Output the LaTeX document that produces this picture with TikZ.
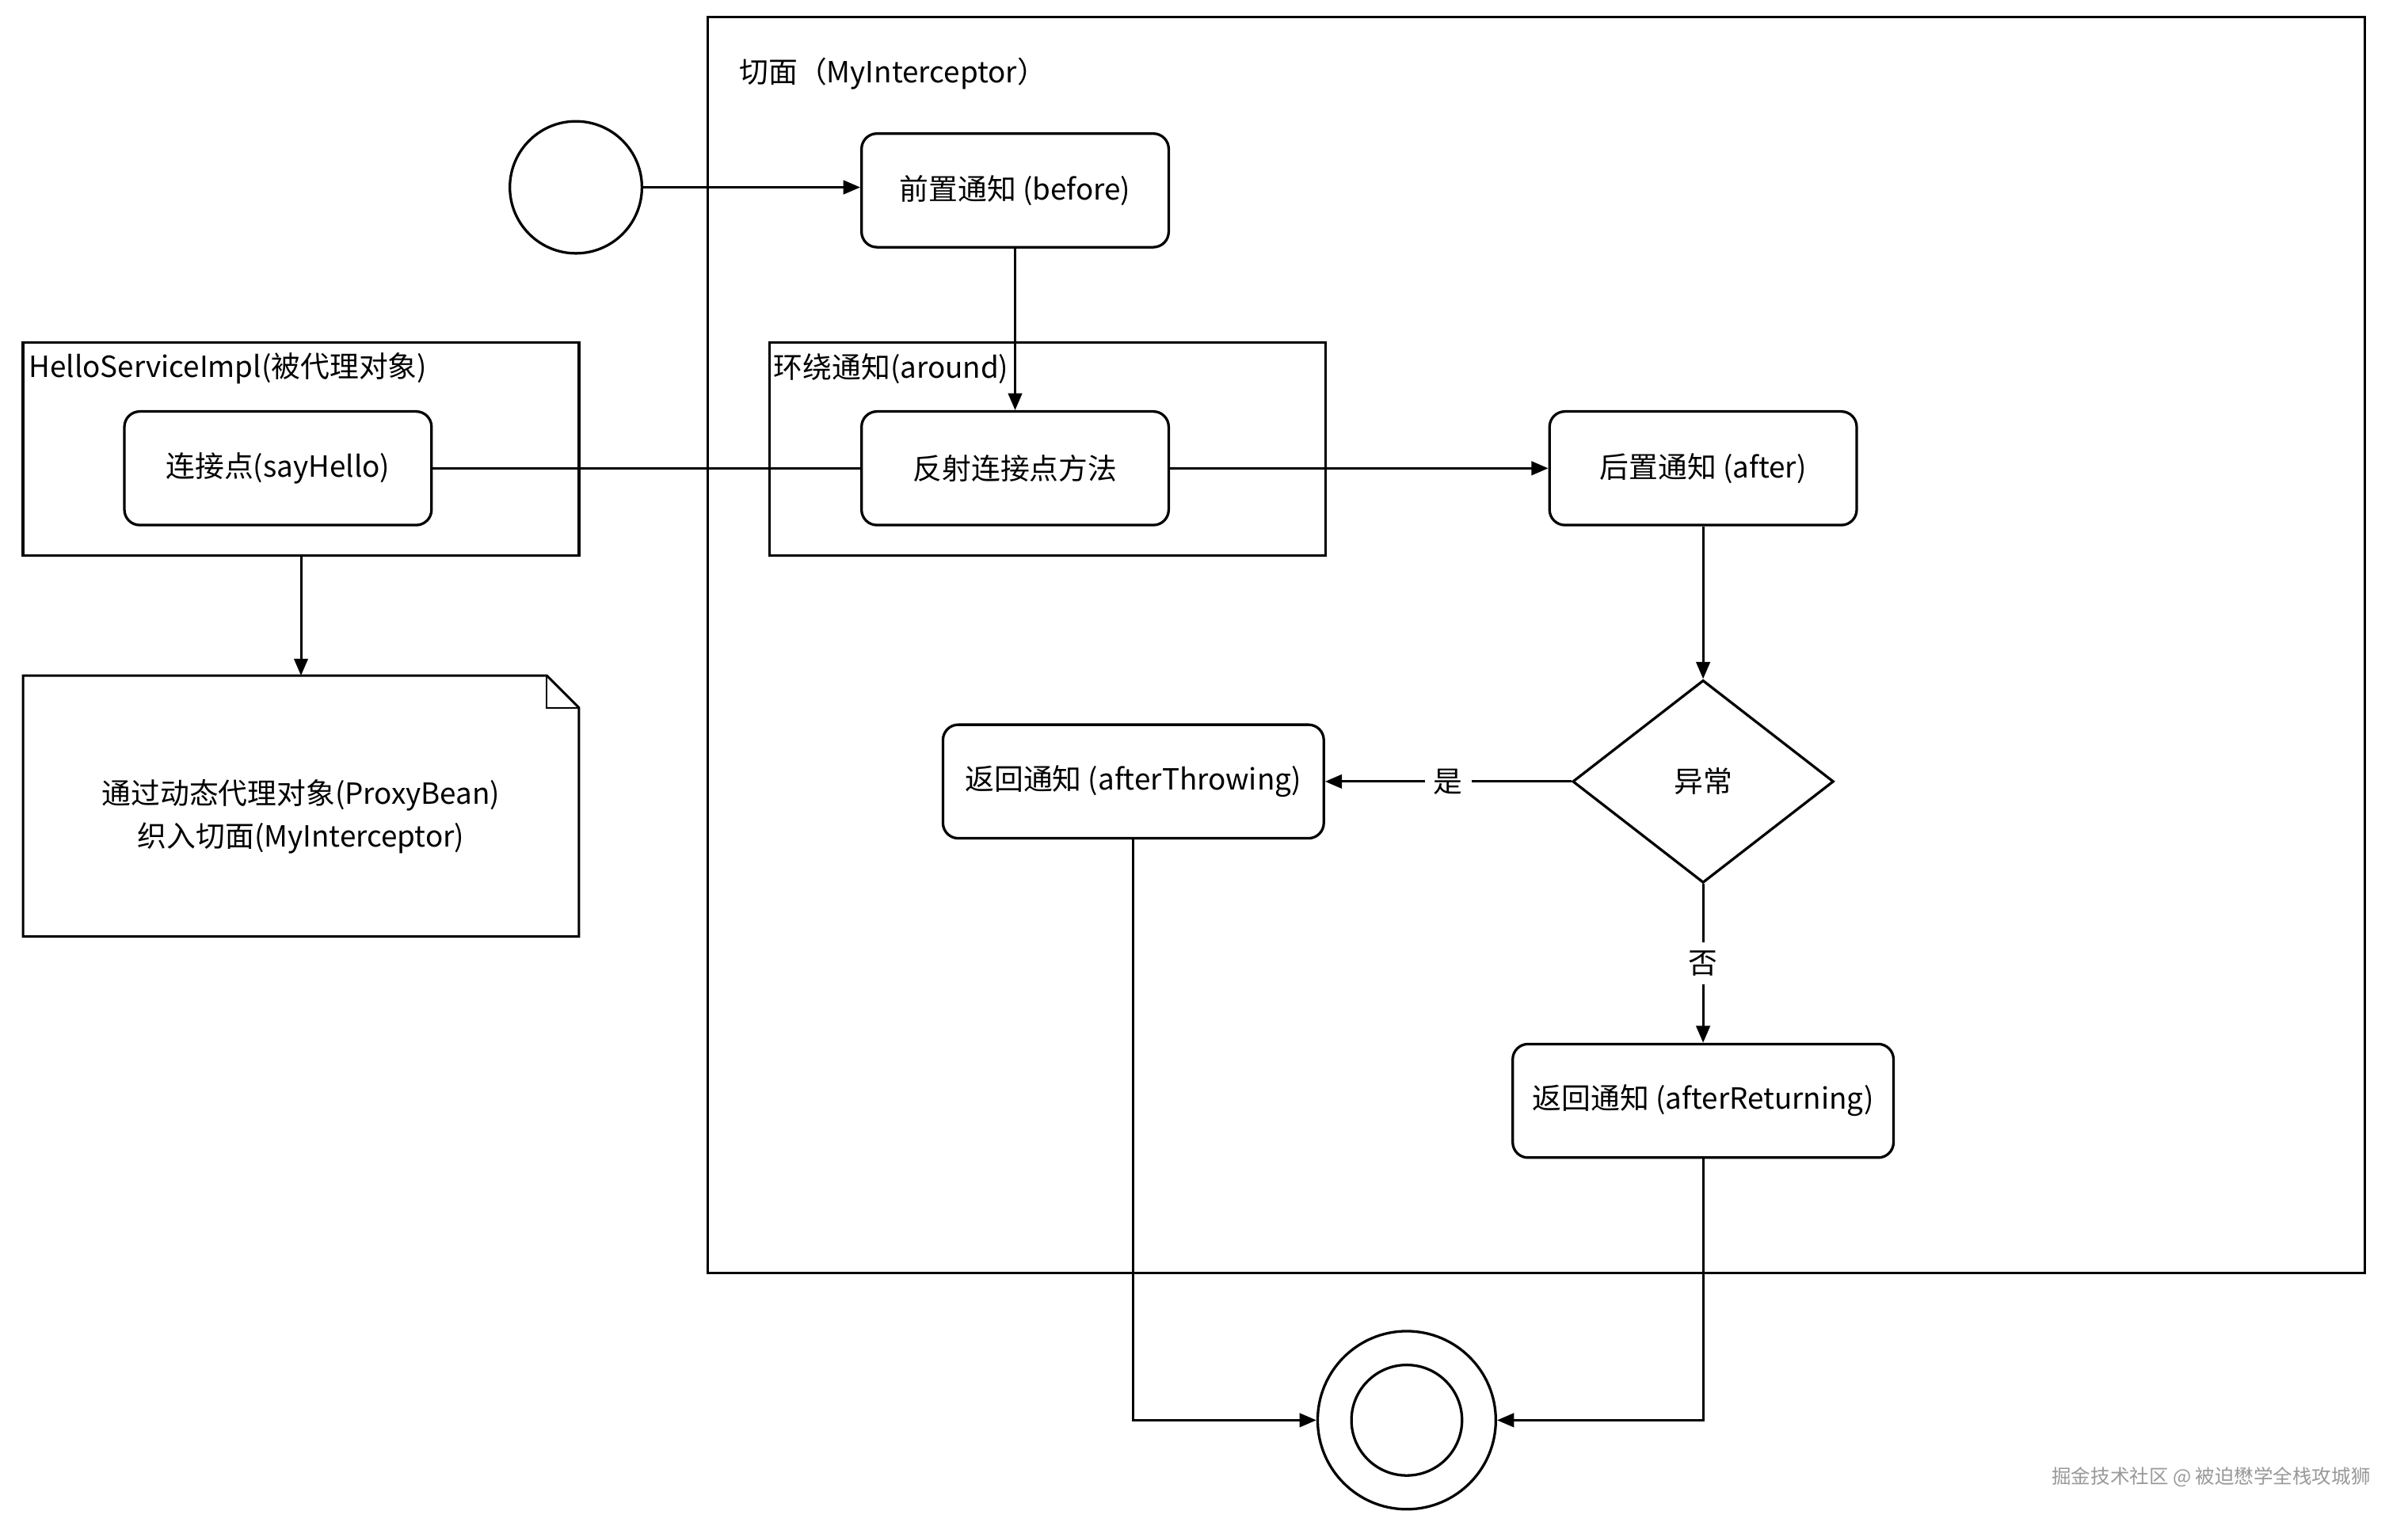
\documentclass[tikz,border=0pt]{standalone}
\usepackage{fontspec}
\setmainfont{Noto Sans CJK SC}
\usetikzlibrary{shapes.geometric,arrows.meta}
\begin{document}
\begin{tikzpicture}[x=0.05cm,y=-0.05cm,
  every node/.style={font=\fontsize{27}{40}\selectfont},
  frame/.style={draw,line width=2.4pt},
  act/.style={draw,line width=2.4pt,rounded corners=0.5cm,minimum width=10cm,minimum height=3.7cm,inner sep=0pt},
  line/.style={line width=2.2pt},
  arr/.style={line width=2.2pt,-{Triangle[length=0.55cm,width=0.45cm]}}]
\useasboundingbox[fill=white] (0,0) rectangle (1568,993.5);
% frames
\draw[frame] (461,11) rectangle (1540,829);
\node[anchor=west] (tlab) at (479,48) {切面（MyInterceptor）};
\draw[frame] (501,223) rectangle (863,362);
\node[anchor=west,inner sep=1pt] (alab) at (503,240) {环绕通知(around)};
\draw[frame] (15,223) rectangle (377,362);
\coordinate (hbot) at (196,362);
\node[anchor=west,inner sep=1pt] (hlab) at (18,240) {HelloServiceImpl(被代理对象)};
% start
\node[draw,circle,line width=2.4pt,minimum size=4.3cm] (start) at (375,122) {};
\node[act] (before) at (661,124) {前置通知 (before)};
\node[act] (refl) at (661,305) {反射连接点方法};
\node[act] (join) at (181,305) {连接点(sayHello)};
\node[act] (after) at (1109,305) {后置通知 (after)};
\node[draw,diamond,line width=2.4pt,minimum width=8.5cm,minimum height=6.6cm,inner sep=0pt,aspect=1.29] (dia) at (1109,509) {异常};
\node[act,minimum width=12.4cm] (throw) at (738,509) {返回通知 (afterThrowing)};
\node[act,minimum width=12.4cm] (ret) at (1109,717) {返回通知 (afterReturning)};
\node[draw,circle,line width=2.4pt,minimum size=5.8cm] (end) at (916,925) {};
\node[draw,circle,line width=2.4pt,minimum size=3.6cm] (endin) at (916,925) {};
% note
\draw[line width=2.2pt] (15,440) -- (356,440) -- (377,461) -- (377,610) -- (15,610) -- cycle;
\draw[line width=1.6pt] (356,440) -- (356,461) -- (377,461);
\node[align=center] (note) at (196,532) {通过动态代理对象(ProxyBean)\\织入切面(MyInterceptor)};
% connectors
\draw[arr] (start.east) -- (before.west|-start.east);
\draw[arr] (before.south) -- (refl.north);
\draw[line] (join.east) -- (refl.west);
\draw[arr] (refl.east) -- (after.west);
\draw[arr] (after.south) -- (dia.north);
\draw[arr] (dia.west) -- node[fill=white,inner xsep=8pt] (yes) {是} (throw.east);
\draw[arr] (dia.south) -- node[fill=white,inner ysep=8pt] (no) {否} (ret.north);
\draw[arr] (hbot) -- (196,440);
\draw[arr] (throw.south) |- (end.west);
\draw[arr] (ret.south) |- (end.east);
\node[anchor=east,text=gray!80,font=\fontsize{18}{21}\selectfont] (wm) at (1546,962) {掘金技术社区 @ 被迫懋学全栈攻城狮};
\end{tikzpicture}
\end{document}
